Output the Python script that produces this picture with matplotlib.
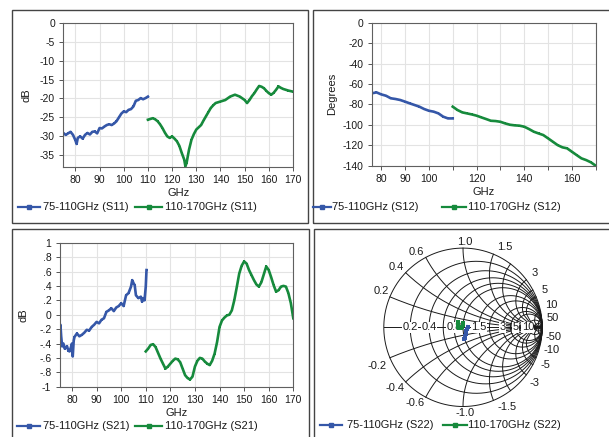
import numpy as np
import matplotlib
matplotlib.use("Agg")
import matplotlib.pyplot as plt
from matplotlib.lines import Line2D
from matplotlib.patches import Rectangle
from matplotlib.ticker import FuncFormatter

plt.rcParams['font.family'] = ['Liberation Sans', 'DejaVu Sans']
plt.rcParams['font.size'] = 7
plt.rcParams['axes.unicode_minus'] = False

BLUE = '#3557A8'
GREEN = '#168A3C'
TXT = '#1a1a1a'

# ---------------- data ----------------
s11_lo_f = [75, 76, 77, 78, 79, 80, 80.5, 81, 82, 83, 84, 85, 86, 87, 88, 89, 90, 91, 92, 93, 94, 95, 96, 97,
            98, 99, 100, 101, 102, 103, 104, 105, 106, 107, 108, 109, 110]
s11_lo_db = [-29.1, -29.6, -29.2, -28.8, -29.6, -31.0, -32.0, -30.4, -30.0, -30.6, -29.6, -29.1, -29.5, -28.8,
             -28.7, -29.2, -27.8, -27.9, -27.4, -27.0, -26.8, -27.0, -26.6, -26.0, -25.0, -24.0, -23.4,
             -23.6, -23.0, -22.8, -22.1, -20.6, -20.4, -19.9, -20.2, -19.9, -19.5]
s11_hi_f = [110, 111, 112, 113, 114, 115, 116, 117, 118, 119, 120, 121, 122, 123, 124, 125, 125.5, 126, 126.5,
            127, 128, 129, 130, 131, 132, 133, 134, 135, 136, 137, 138, 140, 142, 144, 146, 148, 150, 151,
            152, 153, 154, 155, 156, 157, 158, 159, 160, 161, 162, 163, 164, 165, 166, 168, 170]
s11_hi_db = [-25.6, -25.4, -25.2, -25.5, -26.0, -26.8, -27.8, -29.0, -30.0, -30.4, -30.0, -30.6, -31.3, -32.5,
             -34.4, -36.1, -37.9, -37.0, -35.2, -33.5, -30.9, -29.4, -28.2, -27.6, -27.0, -25.8, -24.7,
             -23.6, -22.5, -21.8, -21.2, -20.8, -20.4, -19.5, -19.0, -19.5, -20.4, -21.2, -20.4, -19.4,
             -18.6, -17.6, -16.7, -16.9, -17.3, -18.0, -18.6, -19.0, -18.5, -17.7, -16.8, -17.2, -17.5,
             -17.9, -18.2]

s12_lo_f = [76, 78, 80, 82, 84, 86, 88, 90, 92, 94, 96, 98, 100, 102, 104, 106, 108, 110]
s12_lo_deg = [-69.2, -68.2, -70.2, -71.5, -74.0, -74.7, -75.7, -77.3, -79.0, -80.6, -82.2, -84.5, -86.2,
              -87.1, -88.8, -92.0, -93.7, -93.7]
s12_hi_f = [110, 112, 114, 116, 118, 120, 122, 124, 126, 128, 130, 132, 134, 136, 138, 140, 142, 144, 146,
            148, 150, 152, 154, 156, 158, 160, 162, 164, 166, 168, 170]
s12_hi_deg = [-82.2, -85.5, -87.8, -88.8, -89.8, -91.0, -92.7, -94.3, -96.0, -96.3, -97.0, -98.6, -99.9,
              -100.5, -100.8, -101.8, -104.1, -106.7, -108.4, -110.0, -113.2, -116.5, -119.8, -122.0,
              -123.0, -126.3, -129.6, -132.8, -134.5, -136.7, -140.0]

s21_lo_f = [75, 75.3, 75.6, 76, 76.5, 77, 77.5, 78, 78.5, 79, 79.5, 80, 80.3, 80.7, 81, 82, 83, 84, 85, 86,
            87, 88, 89, 90, 91, 92, 93, 94, 95, 96, 97, 98, 99, 100, 101, 102, 103, 104, 104.5, 105, 105.5,
            106, 107, 108, 108.5, 109, 109.5, 110, 110.3]
s21_lo_db = [-0.26, -0.14, -0.30, -0.44, -0.40, -0.47, -0.45, -0.44, -0.50, -0.51, -0.46, -0.40, -0.58,
             -0.36, -0.31, -0.26, -0.30, -0.28, -0.25, -0.21, -0.22, -0.17, -0.14, -0.10, -0.12, -0.07,
             -0.05, 0.04, 0.06, 0.09, 0.05, 0.10, 0.12, 0.16, 0.12, 0.27, 0.30, 0.39, 0.48, 0.44, 0.41,
             0.27, 0.23, 0.25, 0.18, 0.23, 0.20, 0.39, 0.62]
s21_hi_f = [110, 111, 112, 113, 114, 115, 116, 117, 118, 119, 120, 121, 122, 123, 124, 125, 126, 127, 128,
            129, 130, 131, 132, 133, 134, 135, 136, 137, 138, 139, 140, 141, 142, 143, 144, 145, 146, 147,
            148, 149, 150, 151, 152, 153, 154, 155, 156, 157, 158, 159, 160, 161, 162, 163, 164, 165, 166,
            167, 168, 169, 170]
s21_hi_db = [-0.51, -0.47, -0.42, -0.41, -0.45, -0.53, -0.61, -0.68, -0.75, -0.72, -0.68, -0.64, -0.61,
             -0.62, -0.66, -0.75, -0.84, -0.88, -0.90, -0.86, -0.72, -0.64, -0.60, -0.61, -0.65, -0.68,
             -0.70, -0.64, -0.54, -0.38, -0.17, -0.08, -0.04, -0.01, 0.00, 0.06, 0.20, 0.38, 0.57, 0.68,
             0.74, 0.71, 0.62, 0.55, 0.48, 0.42, 0.39, 0.45, 0.56, 0.67, 0.62, 0.52, 0.41, 0.32, 0.34,
             0.39, 0.40, 0.39, 0.30, 0.16, -0.05]

s22_lo_re = [0.060, 0.050, 0.042, 0.035, 0.028, 0.022, 0.016]
s22_lo_im = [0.008, -0.020, -0.050, -0.080, -0.105, -0.130, -0.152]
s22_hi_re = [-0.068, -0.066, -0.060, -0.045, -0.025, -0.008, 0.002, 0.004]
s22_hi_im = [0.071, 0.040, 0.010, -0.012, -0.013, 0.005, 0.030, 0.050]

W, H = 609, 437
fig = plt.figure(figsize=(W / 100, H / 100), dpi=100)
fig.patch.set_facecolor('white')


def fx(px):
    return px / W


def fy(py):
    return 1 - py / H


# panel frames
frames = [(11.5, 9.5, 308, 223), (313, 9.5, 612, 223), (11.5, 229, 309, 440), (314, 229, 612, 440)]
for x0, y0, x1, y1 in frames:
    fig.add_artist(Rectangle((fx(x0), fy(y1)), fx(x1 - x0), (y1 - y0) / H, transform=fig.transFigure,
                             fill=False, edgecolor='#444444', linewidth=1.0))


def style_axes(ax):
    ax.grid(True, color='#e3e3e3', linewidth=0.8)
    ax.set_axisbelow(True)
    for s in ax.spines.values():
        s.set_color('#606060')
        s.set_linewidth(0.8)
    ax.tick_params(axis='both', labelsize=7.5, colors='#555555', labelcolor=TXT, length=3, width=0.7,
                   direction='out', pad=3)


def plot_series(ax, f, v, color):
    ax.plot(f, v, color=color, linewidth=1.9, marker='s', markersize=2.0, markeredgewidth=0)


def legend(y, x_line1, x_text1, x_line2, x_text2, t1, t2):
    for xl, xt, col, t in [(x_line1, x_text1, BLUE, t1), (x_line2, x_text2, GREEN, t2)]:
        fig.add_artist(Line2D([fx(xl[0]), fx(xl[1])], [fy(y), fy(y)], transform=fig.transFigure,
                              color=col, linewidth=1.6))
        fig.add_artist(Line2D([fx((xl[0] + xl[1]) / 2)], [fy(y)], transform=fig.transFigure, color=col,
                              marker='s', markersize=3, linewidth=0))
        fig.text(fx(xt), fy(y), t, fontsize=8, color=TXT, ha='left', va='center')


# ---------- top-left S11 ----------
ax1 = fig.add_axes([fx(63.3), fy(166.7), fx(293 - 63.3), (166.7 - 22.7) / H])
style_axes(ax1)
plot_series(ax1, s11_lo_f, s11_lo_db, BLUE)
plot_series(ax1, s11_hi_f, s11_hi_db, GREEN)
ax1.set_xlim(75, 170)
ax1.set_ylim(-38, 0)
ax1.set_xticks(np.arange(80, 171, 10))
ax1.set_yticks(np.arange(-35, 1, 5))
ax1.set_xlabel('GHz', fontsize=8, color=TXT, labelpad=2)
ax1.set_ylabel('dB', fontsize=8, color=TXT, labelpad=6)
legend(207, (18, 40), 43, (135, 162), 165, '75-110GHz (S11)', '110-170GHz (S11)')

# ---------- top-right S12 ----------
ax2 = fig.add_axes([fx(371.7), fy(165.7), fx(595.7 - 371.7), (165.7 - 22.7) / H])
style_axes(ax2)
plot_series(ax2, s12_lo_f, s12_lo_deg, BLUE)
plot_series(ax2, s12_hi_f, s12_hi_deg, GREEN)
ax2.set_xlim(76, 170)
ax2.set_ylim(-140, 0)
xt = np.arange(80, 171, 10)
ax2.set_xticks(xt)
ax2.set_xticklabels([str(v) if v in (80, 90, 100, 120, 140, 160) else '' for v in xt])
ax2.set_yticks(np.arange(-140, 1, 20))
ax2.set_xlabel('GHz', fontsize=8, color=TXT, labelpad=2)
ax2.set_ylabel('Degrees', fontsize=8, color=TXT, labelpad=4)
legend(207, (313, 331), 332, (442, 466), 468, '75-110GHz (S12)', '110-170GHz (S12)')

# ---------- bottom-left S21 ----------
ax3 = fig.add_axes([fx(59.7), fy(386.7), fx(293.3 - 59.7), (386.7 - 242.7) / H])
style_axes(ax3)
plot_series(ax3, s21_lo_f, s21_lo_db, BLUE)
plot_series(ax3, s21_hi_f, s21_hi_db, GREEN)
ax3.set_xlim(75, 170)
ax3.set_ylim(-1, 1)
ax3.set_xticks(np.arange(80, 171, 10))
ax3.set_yticks(np.arange(-1, 1.01, 0.2))


def fmt(v, pos):
    v = round(v, 1)
    if abs(v) == 1:
        return '%d' % v
    if v == 0:
        return '0'
    s = ('%.1f' % v).replace('0.', '.')
    return s


ax3.yaxis.set_major_formatter(FuncFormatter(fmt))
ax3.set_xlabel('GHz', fontsize=8, color=TXT, labelpad=2)
ax3.set_ylabel('dB', fontsize=8, color=TXT, labelpad=8)
legend(426, (17, 40), 43, (135, 162), 165, '75-110GHz (S21)', '110-170GHz (S21)')

# ---------- bottom-right Smith S22 ----------
cx, cy, R = 463, 327.3, 79.2
ax4 = fig.add_axes([fx(cx - R), fy(cy + R), 2 * R / W, 2 * R / H])
ax4.set_xlim(-1, 1)
ax4.set_ylim(-1, 1)
ax4.set_aspect('equal', adjustable='box')
ax4.axis('off')
gl = dict(color='#1a1a1a', linewidth=0.7, clip_on=False)
t = np.linspace(0, 2 * np.pi, 400)
ax4.plot(np.cos(t), np.sin(t), **gl)
r_vals = [0.2, 0.4, 0.6, 0.8, 1.0, 1.5, 2, 3, 4, 5, 10, 20, 50]
for r in r_vals:
    c = r / (1 + r)
    rad = 1 / (1 + r)
    ax4.plot(c + rad * np.cos(t), rad * np.sin(t), **gl)
x_vals = [0.2, 0.4, 0.6, 1.0, 1.5, 2, 3, 4, 5, 10, 20, 50]
rr = np.concatenate([np.linspace(0, 5, 300), np.linspace(5, 2000, 300)])
for xv in x_vals:
    for sgn in (1, -1):
        z = rr + 1j * sgn * xv
        g = (z - 1) / (z + 1)
        ax4.plot(g.real, g.imag, **gl)
ax4.plot([-1, 1], [0, 0], **gl)

# axis labels on real axis
for r, lab in [(0.2, '0.2'), (0.4, '0.4'), (0.8, '0.8'), (1.5, '1.5'), (3, '3'), (5, '5'), (10, '10')]:
    ax4.text((r - 1) / (r + 1), 0, lab, fontsize=8, color=TXT, ha='center', va='center',
             bbox=dict(facecolor='white', edgecolor='none', pad=0.3))
# reactance labels (pixel offsets from centre)
rlabels = [('1.0', 2, 85.6), ('1.5', 42, 80), ('3', 71.3, 54.6), ('5', 81.3, 37.3), ('10', 88.7, 22.3),
           ('50', 90, 9.6), ('0.6', -46.3, 75.6), ('0.4', -66.3, 60.6), ('0.2', -82, 36.6),
           ('-0.2', -86, -39), ('-0.4', -68, -61), ('-0.6', -48, -76), ('-1.0', 2, -85.4),
           ('-1.5', 43.7, -80), ('-3', 72, -55.4), ('-5', 82, -37.7), ('-10', 88.7, -22.7),
           ('-50', 90, -10)]
for lab, dx, dy in rlabels:
    ax4.text(dx / R, dy / R, lab, fontsize=8, color=TXT, ha='center', va='center', clip_on=False)

ax4.plot(s22_lo_re, s22_lo_im, color=BLUE, linewidth=2.2, marker='s', markersize=2.2, markeredgewidth=0,
         clip_on=False, zorder=5)
ax4.plot(s22_hi_re, s22_hi_im, color=GREEN, linewidth=2.2, marker='s', markersize=2.2, markeredgewidth=0,
         clip_on=False, zorder=5)
legend(425, (320, 342), 347, (443, 467), 468, '75-110GHz (S22)', '110-170GHz (S22)')

fig.savefig('out.png', dpi=100, facecolor='white')
